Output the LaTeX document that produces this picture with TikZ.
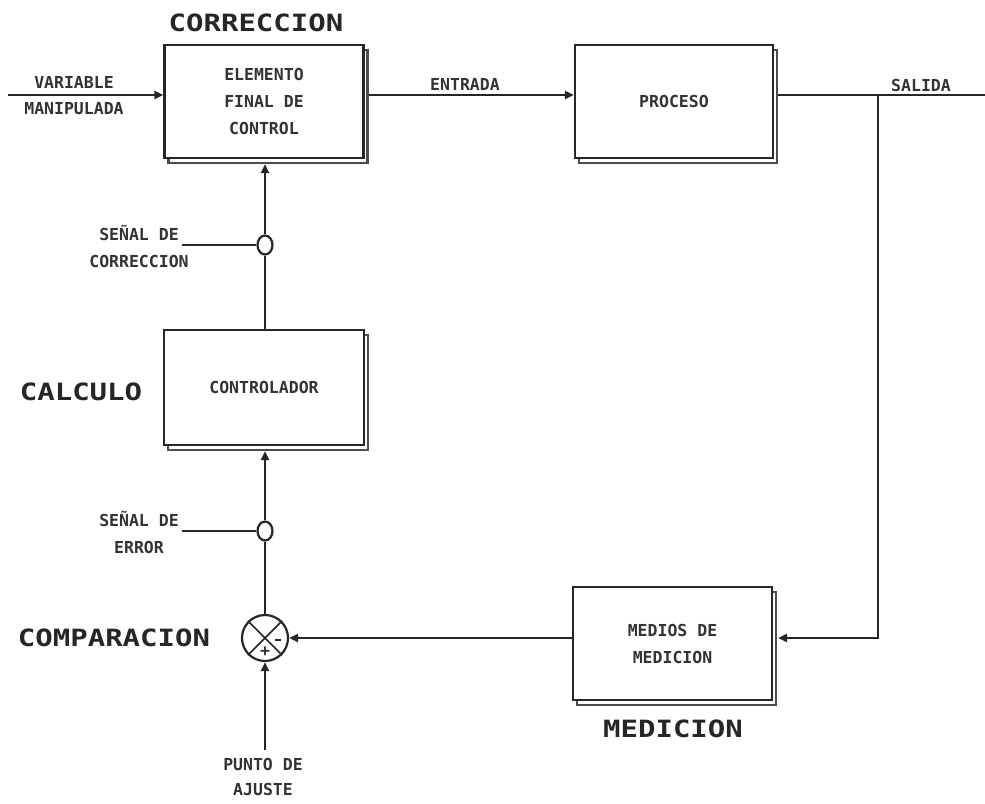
\documentclass[tikz,border=0pt]{standalone}
\usepackage{fontspec}
\newfontfamily\monof{DejaVu Sans Mono}
\newcommand\smtxt{\monof\bfseries\fontsize{16.5}{27}\selectfont}
\newcommand\bigtxt{\monof\bfseries\fontsize{29}{31}\selectfont}
\usetikzlibrary{arrows.meta,shapes.geometric,shadows}
\begin{document}
\begin{tikzpicture}[x=1pt,y=-1pt,
  lw/.style={line width=2.2pt, draw=black!85},
  arr/.style={-{Triangle[length=9pt,width=8pt]}},
  blk/.style={draw=black!85, line width=2.2pt, fill=white, inner sep=0pt, align=center,
    font=\smtxt, text=black!80,
    minimum width=199pt, minimum height=113pt,
    general shadow={draw=black!70, line width=2.4pt, fill=white, shadow xshift=4pt, shadow yshift=-5pt}},
  lbl/.style={font=\smtxt, text=black!80, align=center, inner sep=0pt},
  ttl/.style={font=\bigtxt, text=black!85, inner sep=0pt},
  smc/.style={ellipse, draw=black!85, line width=2.2pt, fill=white, inner sep=0pt,
    minimum width=15pt, minimum height=19pt}]
\useasboundingbox (0,0) rectangle (985,803);

% blocks
\node[blk] (b1) at (264,101.5) {ELEMENTO\\FINAL DE\\CONTROL};
\node[blk, minimum width=198pt] (proc) at (674,101.5) {PROCESO};
\node[blk, minimum width=200pt, minimum height=115pt] (ctrl) at (264,387.5) {CONTROLADOR};
\node[blk] (med) at (672.5,643.5) {MEDIOS DE\\MEDICION};

% junctions
\node[smc] (s1) at (265,245) {};
\node[smc] (s2) at (265,531) {};
\node[circle, draw=black!85, line width=2.2pt, fill=white, inner sep=0pt, minimum size=46pt] (sum) at (265,638) {};
\draw[lw, line width=1.6pt] (sum.45) -- (sum.225);
\draw[lw, line width=1.6pt] (sum.135) -- (sum.315);
\node[inner sep=0pt] (mn) at (278,640) {\color{black!85}\rule{6pt}{1.8pt}};
\node[lbl] (pl) at (265,652) {+};

% titles
\node[ttl] (tcor) at (256,23) {\scalebox{1}[0.82]{CORRECCION}};
\node[ttl] (tcal) at (81,392) {\scalebox{1}[0.82]{CALCULO}};
\node[ttl] (tcom) at (114,638) {\scalebox{1}[0.82]{COMPARACION}};
\node[ttl] (tmed) at (673,729) {\scalebox{1}[0.82]{MEDICION}};

% labels
\node[lbl] (lvar) at (74,96) {VARIABLE\\[-1pt]MANIPULADA};
\node[lbl] (lent) at (465,84) {ENTRADA};
\node[lbl] (lsal) at (921,85) {SALIDA};
\node[lbl] (lcor) at (139,246) {SEÑAL DE\\CORRECCION};
\node[lbl] (lerr) at (139,532) {SEÑAL DE\\ERROR};
\node[lbl] (lpun) at (263,777) {PUNTO DE\\[-2pt]AJUSTE};

% coordinates
\coordinate (inL) at (8,95);
\coordinate (outR) at (985,95);
\coordinate (br) at (878,95);
\coordinate (fb) at (878,638);
\coordinate (sp) at (265,750);
\coordinate (c1) at (182,245);
\coordinate (c2) at (182,531);

% connectors
\draw[lw,arr] (inL) -- (inL -| b1.west);
\draw[lw,arr] ([xshift=4pt]b1.east |- inL) -- (proc.west |- inL);
\draw[lw] ([xshift=4pt]proc.east |- inL) -- (outR);
\draw[lw,arr] (br) -- (fb) -- ([xshift=5pt]med.east |- fb);
\draw[lw,arr] (med.west |- fb) -- (sum.east);
\draw[lw,arr] (sp) -- (sum.south);
\draw[lw] (sum.north) -- (s2.south);
\draw[lw,arr] (s2.north) -- ([xshift=1pt,yshift=-5pt]ctrl.south);
\draw[lw] ([xshift=1pt]ctrl.north) -- (s1.south);
\draw[lw,arr] (s1.north) -- ([xshift=1pt,yshift=-5pt]b1.south);
\draw[lw] (c1) -- (s1.west);
\draw[lw] (c2) -- (s2.west);
\end{tikzpicture}
\end{document}
